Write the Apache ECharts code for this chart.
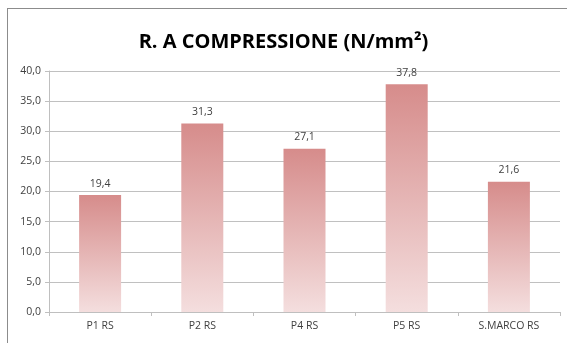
<!DOCTYPE html>
<html>
<head>
<meta charset="utf-8">
<script src="https://cdn.jsdelivr.net/npm/echarts@6/dist/echarts.min.js"></script>
<style>
  html, body { margin: 0; padding: 0; background: #fff; }
  #frame {
    position: absolute; left: 7px; top: 8px; width: 570px; height: 340px;
    border-left: 1px solid #8c8c8c; border-top: 1px solid #8c8c8c;
  }
  #chart { position: absolute; left: 0; top: 0; width: 567px; height: 343px; }
</style>
</head>
<body>
<div id="frame"></div>
<div id="chart"></div>
<script>
const categories = ["P1 RS", "P2 RS", "P4 RS", "P5 RS", "S.MARCO RS"];
const values = [19.4, 31.3, 27.1, 37.8, 21.6];
const yTicks = { min: 0, max: 40, interval: 5 };

const fontFamily = "'Open Sans', sans-serif";
const fmt = (v) => Number(v).toFixed(1).replace(".", ",");

const chart = echarts.init(document.getElementById("chart"));
chart.setOption({
  animation: false,
  title: {
    text: "R. A COMPRESSIONE (N/mm²)",
    left: "center",
    top: 27,
    textStyle: { fontFamily, fontSize: 20, fontWeight: "bold", color: "#000" },
  },
  grid: { left: 49, right: 7, top: 71, bottom: 31 },
  xAxis: {
    type: "category",
    data: categories,
    axisLine: { lineStyle: { color: "#bfbfbf" } },
    axisTick: { show: true, length: 4, lineStyle: { color: "#bfbfbf" } },
    axisLabel: { color: "#404040", fontFamily, fontSize: 10.5, margin: 9 },
  },
  yAxis: {
    type: "value",
    min: yTicks.min,
    max: yTicks.max,
    interval: yTicks.interval,
    axisLine: { show: true, lineStyle: { color: "#bfbfbf" } },
    axisTick: { show: true, length: 4, lineStyle: { color: "#bfbfbf" } },
    axisLabel: { color: "#404040", fontFamily, fontSize: 10.5, margin: 8, formatter: fmt },
    splitLine: { lineStyle: { color: "#c0c0c0" } },
  },
  series: [
    {
      type: "bar",
      data: values,
      barWidth: 42,
      itemStyle: {
        color: new echarts.graphic.LinearGradient(0, 0, 0, 1, [
          { offset: 0, color: "#d68c8b" },
          { offset: 1, color: "#f4dede" },
        ]),
      },
      label: {
        show: true,
        position: "top",
        distance: 6,
        color: "#404040",
        fontFamily,
        fontSize: 10.5,
        formatter: (p) => fmt(p.value),
      },
    },
  ],
});
</script>
</body>
</html>
